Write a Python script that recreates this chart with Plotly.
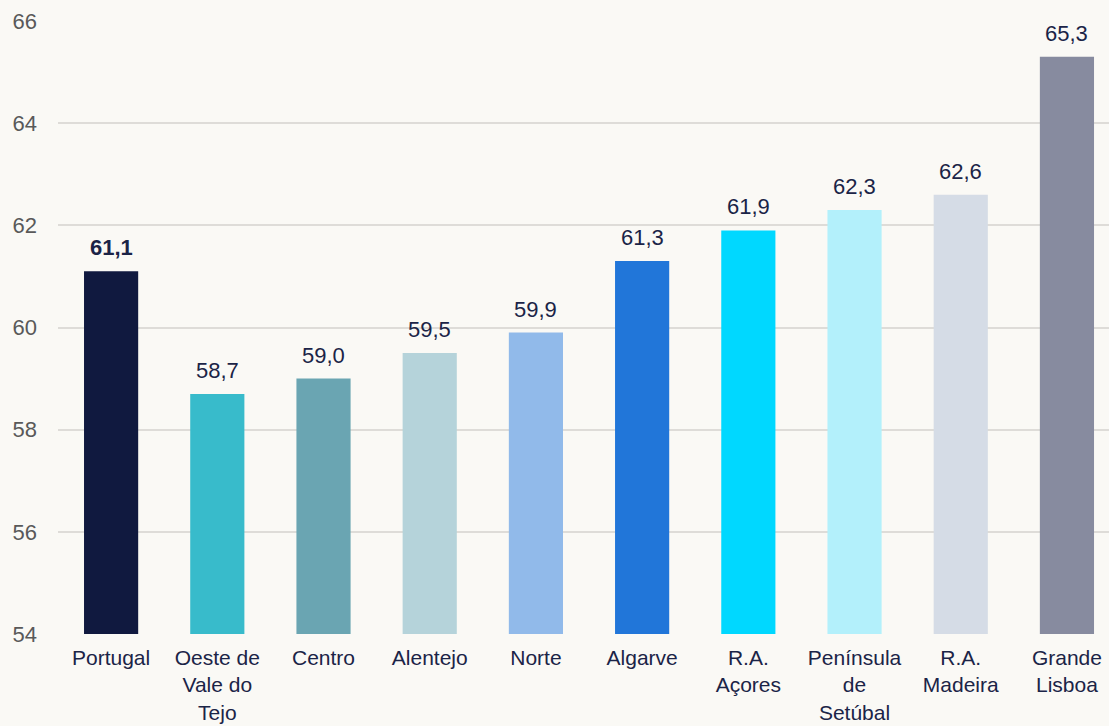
import plotly.graph_objects as go

regions = ["Portugal", "Oeste de<br>Vale do<br>Tejo", "Centro", "Alentejo", "Norte",
           "Algarve", "R.A.<br>Açores", "Península<br>de<br>Setúbal", "R.A.<br>Madeira", "Grande<br>Lisboa"]
values = [61.1, 58.7, 59.0, 59.5, 59.9, 61.3, 61.9, 62.3, 62.6, 65.3]
colors = ["#10193F", "#38BBCB", "#6AA5B2", "#B5D3DA", "#91BAEA",
          "#2176D9", "#00D8FF", "#B3F0FB", "#D5DCE6", "#878B9F"]
y_ticks = [54, 56, 58, 60, 62, 64, 66]

labels = [f"{v:.1f}".replace(".", ",") for v in values]
labels[0] = "<b>" + labels[0] + "</b>"

xs = list(range(len(regions)))
fig = go.Figure(go.Bar(
    x=xs, y=values,
    marker=dict(color=colors, line=dict(width=0)),
    width=0.51, hoverinfo="skip",
))

for x, v, t in zip(xs, values, labels):
    fig.add_annotation(x=x, y=v, text=t, showarrow=False, yanchor="bottom",
                       yshift=9, font=dict(family="Arial, Liberation Sans", size=22, color="#1B2447"))

fig.update_layout(
    width=1109, height=726,
    margin=dict(l=58, r=0, t=21, b=92),
    paper_bgcolor="#FAF9F5", plot_bgcolor="#FAF9F5",
    showlegend=False,
    font=dict(family="Arial, Liberation Sans"),
    xaxis=dict(
        tickmode="array", tickvals=xs, ticktext=regions, automargin=False,
        range=[-0.5, 9.396], showgrid=False, zeroline=False, showline=False,
        tickfont=dict(size=21, color="#1B2447"), ticks="", ticklabelstandoff=9,
    ),
    yaxis=dict(
        range=[54, 66], tickvals=y_ticks, showgrid=True, gridcolor="#DEDCD8", gridwidth=1.5,
        automargin=False,
        zeroline=False, showline=False, ticks="", ticklabelstandoff=20,
        tickfont=dict(size=22, color="#595959"),
    ),
)

fig.write_html("out.html", config={"displayModeBar": False},
               post_script="document.body.style.margin='0';document.body.style.background='#FAF9F5';")
